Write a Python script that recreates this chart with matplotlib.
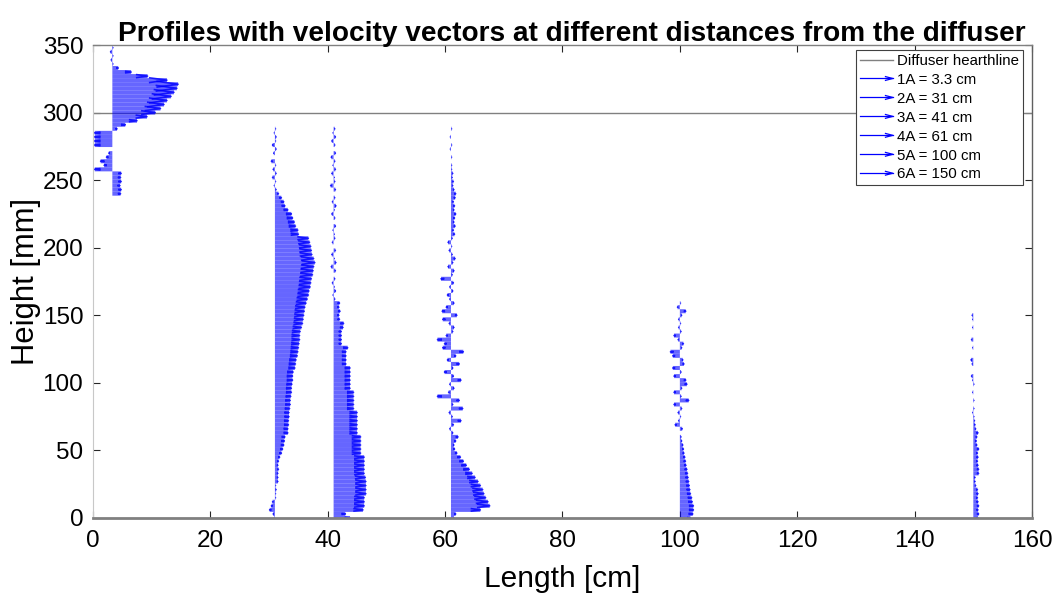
import matplotlib
matplotlib.use("Agg")
import matplotlib.pyplot as plt
import numpy as np
from matplotlib.collections import LineCollection
from matplotlib.legend_handler import HandlerBase
from matplotlib.lines import Line2D

plt.rcParams["font.family"] = ["Liberation Sans", "DejaVu Sans"]

# profile positions along the channel [cm]
STATIONS = [3.3, 31, 41, 61, 100, 150]
LABELS = ["1A = 3.3 cm", "2A = 31 cm", "3A = 41 cm", "4A = 61 cm", "5A = 100 cm", "6A = 150 cm"]
HEARTHLINE = 300  # mm

# measurement heights [mm]
h1 = np.arange(240, 349, 3)
h_long = np.arange(0, 289, 3)
h_short = np.arange(0, 160, 3)

# horizontal velocity vectors (drawn length, cm)
u1 = [1.4, 1.5, 1.3, 1.5, 1.4, 1.5, -3.0, -1.4, -2.0, -1.0, -0.6, 0.0, -3.0,
      -3.0, -3.0, -3.0, 0.8, 2.2, 4.2, 5.9, 7.3, 8.2, 8.8, 9.3, 10.0, 10.5,
      11.0, 11.2, 9.3, 6.0, 3.2, 1.0, 0.1, -0.2, 0.1, -0.3, 0.1]

u2 = [-0.1, -0.3, -0.9, -0.6, -0.4, 0.1, 0.1, 0.2, 0.1, 0.5, 0.5, 0.5, 0.6,
      0.5, 0.6, 0.8, 1.1, 1.3, 1.5, 1.6, 1.7, 2.2, 2.2, 2.3, 2.3, 2.4, 2.4,
      2.5, 2.6, 2.6, 2.7, 2.8, 2.8, 2.9, 3.0, 3.0, 3.1, 3.4, 3.5, 3.6, 3.8,
      3.9, 4.0, 4.1, 4.2, 4.2, 4.3, 4.5, 4.7, 4.8, 4.9, 5.0, 5.1, 5.3, 5.5,
      5.7, 5.8, 6.0, 6.1, 6.2, 6.4, 6.5, 6.6, 6.8, 6.6, 6.3, 6.2, 6.1, 5.9,
      5.7, 4.0, 3.9, 3.5, 3.3, 3.0, 2.8, 2.2, 1.7, 1.5, 1.1, 0.6, 0.2, -0.1,
      0.1, -0.4, 0.2, -0.3, 0.1, -0.6, 0.0, -0.2, 0.2, -0.4, 0.1, 0.2, -0.1, 0.1]

u3 = [2.8, 2.0, 5.0, 5.2, 5.2, 5.2, 5.5, 5.5, 5.5, 5.5, 5.4, 5.2, 5.2, 5.2,
      5.2, 5.2, 4.6, 4.6, 4.6, 4.6, 4.6, 4.0, 4.0, 4.0, 4.0, 4.0, 4.0, 3.4,
      3.4, 3.4, 3.4, 3.4, 2.8, 2.8, 2.8, 2.8, 2.8, 2.8, 2.1, 2.1, 2.1, 2.1,
      2.4, 1.3, 1.3, 1.3, 1.3, 1.6, 1.7, 1.0, 0.9, 1.1, 0.9, 1.0, 0.2, -0.1,
      0.3, 0.1, -0.2, 0.2, 0.0, 0.3, -0.4, 0.4, 0.1, -0.3, 0.3, 0.0, -0.2,
      0.2, 0.1, -0.1, 0.3, 0.0, 0.2, -0.3, 0.1, 0.4, -0.2, 0.2, 0.0, 0.3,
      -0.5, 0.2, 0.1, -0.3, 0.3, -0.1, 0.2, -0.4, 0.3, 0.0, 0.2, -0.3, 0.3,
      -0.1, 0.2]

u4 = [0.5, 0.8, 5.0, 6.6, 6.3, 5.9, 5.6, 5.4, 5.0, 4.6, 4.1, 3.6, 3.1, 2.6,
      2.1, 1.6, 1.0, 0.6, 0.5, 0.8, 1.2, 0.3, -0.2, 0.4, 1.7, 0.2, -0.3, 2.0,
      0.3, 1.4, -2.3, -0.4, 0.5, -0.2, 1.7, 0.4, -1.1, 0.3, 1.4, -0.6, 0.8,
      2.1, -1.4, -1.1, -2.3, -0.8, 0.3, 0.5, -0.3, -1.4, 1.0, -1.5, -0.8, 0.5,
      -0.2, -0.6, 0.3, -0.2, 0.4, -1.7, 0.2, 0.5, -0.5, 0.3, 0.7, 0.2, -0.3,
      0.1, -0.5, 0.2, 0.6, 0.4, 0.7, 0.5, 0.6, 0.8, 0.5, 0.6, 0.4, 0.7, 0.8,
      0.5, 0.3, 0.4, 0.2, 0.3, 0.1, 0.1, 0.0, 0.1, 0.0, -0.1, 0.1, 0.0, -0.1,
      0.0, 0.1]

u5 = [1.8, 2.2, 2.3, 2.3, 2.1, 2.0, 1.8, 1.7, 1.6, 1.5, 1.4, 1.3, 1.2, 1.05,
      0.95, 0.85, 0.7, 0.6, 0.5, 0.3, 0.2, 0.0, 0.4, -0.8, -0.2, 0.1, -0.3,
      0.3, -1.0, 1.5, 0.2, -1.0, 0.3, 1.2, 1.0, -1.0, 0.2, -1.2, 0.7, 0.5,
      -1.2, -1.6, 0.3, 0.6, -0.3, -1.0, 0.2, -0.2, 0.1, -0.2, 0.3, 1.0, -0.4, 0.1]

u6 = [0.8, 0.9, 0.8, 0.9, 0.8, 0.7, 0.8, 0.7, 0.4, 0.3, 0.3, 0.9, 0.9, 0.8,
      0.7, 0.8, 0.7, 0.9, 0.6, 0.5, 0.6, 0.8, 0.4, 0.3, 0.2, 0.1, -0.1, 0.1,
      0.0, 0.1, 0.0, -0.1, 0.0, 0.1, -0.1, -0.3, 0.0, 0.0, -0.2, -0.4, 0.0,
      0.0, -0.1, 0.0, -0.3, 0.0, 0.0, -0.1, 0.0, -0.1, -0.2, 0.0, 0.0, 0.0]

PROFILES = [(h1, u1), (h_long, u2), (h_long, u3), (h_long, u4), (h_short, u5), (h_short, u6)]


def matlab_arrows(x0, heights, u, alpha=0.33, beta=0.33):
    """Shafts and open heads, MATLAB quiver style (head scales with arrow length)."""
    shafts, heads = [], []
    for y, du in zip(heights, u):
        tip = x0 + du
        shafts.append([(x0, y), (tip, y)])
        wing = alpha * beta * abs(du) * 1.8
        back = tip - alpha * du
        heads.append([(back, y + wing), (tip, y), (back, y - wing)])
    return shafts, heads


class ArrowHandler(HandlerBase):
    def create_artists(self, legend, orig_handle, xdescent, ydescent, width, height, fontsize, trans):
        y = height / 2 - ydescent
        x0, x1 = -xdescent, -xdescent + width
        shaft = Line2D([x0, x1], [y, y], color="#0000ff", lw=0.9, transform=trans)
        head = Line2D([x1 - 0.22 * width, x1, x1 - 0.22 * width], [y + 0.18 * height, y, y - 0.18 * height],
                      color="#0000ff", lw=0.9, transform=trans)
        return [shaft, head]


fig = plt.figure(figsize=(10.59, 5.98), dpi=100)
ax = fig.add_axes([0.0878, 0.1338, 0.8867, 0.7909])

line = ax.axhline(HEARTHLINE, color="#808080", lw=1.0, label="Diffuser hearthline")

handles = [line]
for x0, (h, u), lab in zip(STATIONS, PROFILES, LABELS):
    shafts, heads = matlab_arrows(x0, h, u)
    lc = LineCollection(shafts, colors=[(0, 0, 1, 0.6)], linewidths=2.9, capstyle="butt", label=lab)
    lc.set_snap(False)
    ax.add_collection(lc)
    hc = LineCollection(heads, colors=[(0, 0, 1, 0.8)], linewidths=1.2)
    hc.set_snap(False)
    ax.add_collection(hc)
    handles.append(lc)

ax.set_xlim(0, 160)
ax.set_ylim(0, 350)
ax.set_xticks(np.arange(0, 161, 20))
ax.set_yticks(np.arange(0, 351, 50))
ax.tick_params(direction="in", length=5, width=0.8, labelsize=17.5, colors="#262626",
               top=True, right=True, labelcolor="black", pad=7)
ax.tick_params(axis="x", pad=9)
for side, col, lw in [("left", "#c8c8c8", 0.8), ("bottom", "#808080", 2.0),
                      ("top", "#808080", 1.0), ("right", "#606060", 1.0)]:
    ax.spines[side].set_color(col)
    ax.spines[side].set_linewidth(lw)

ax.set_xlabel("Length [cm]", fontsize=21.5, labelpad=9)
ax.set_ylabel("Height [mm]", fontsize=22.3, labelpad=1)
ax.set_title("Profiles with velocity vectors at different distances from the diffuser",
             fontsize=20.2, fontweight="bold", pad=3, x=0.51)

leg = ax.legend(handles=handles, loc="upper right", bbox_to_anchor=(0.9904, 0.9894),
                fontsize=10.8, frameon=True, fancybox=False, framealpha=1, edgecolor="#404040",
                borderaxespad=0, borderpad=0.25, labelspacing=0.33, handlelength=2.2,
                handletextpad=0.3, handler_map={h: ArrowHandler() for h in handles[1:]})
leg.get_frame().set_linewidth(0.8)

fig.savefig("out.png", dpi=100)
